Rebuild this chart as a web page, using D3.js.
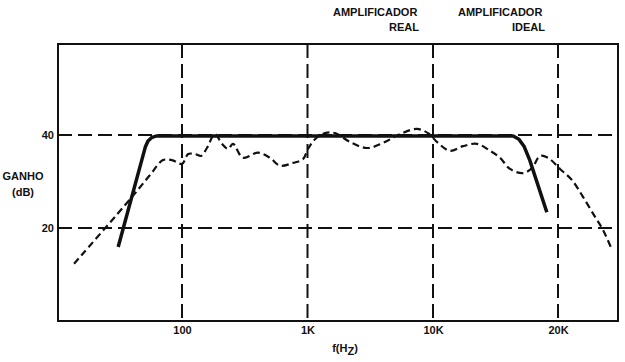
<!DOCTYPE html>
<html>
<head>
<meta charset="utf-8">
<script src="https://cdn.jsdelivr.net/npm/d3@7"></script>
<style>
  body { margin: 0; background: #fff; }
  svg { display: block; }
</style>
</head>
<body>
<div id="chart"></div>
<script>
// frequency axis (the original spaces 10K -> 20K like a decade)
const freqTicks = [100, 1000, 10000, 20000];
const freqLabels = ["100", "1K", "10K", "20K"];
const gainTicks = [20, 40];

// ideal amplifier (solid)
const idealFreq = [31, 51, 53.6, 57.7, 63, 15600, 16100, 16560, 17100, 18800];
const idealGain = [15.9, 37.4, 38.7, 39.5, 39.8, 39.8, 39.1, 37.6, 34.6, 23.4];

// real amplifier (dashed)
const realFreq = [13.8, 40, 55.6, 70.6, 83, 100, 112, 127, 142, 158, 183, 208, 233, 255, 306, 403, 502, 604, 766, 920,
  1009, 1148, 1378, 1656, 2182, 2980, 4000, 5460, 7460, 9120, 10280, 10990, 11810, 12760, 13720, 14500, 15330,
  16470, 17320, 18100, 18920, 20220, 21610, 22970, 24560, 25670, 26980];
const realGain = [12.3, 26.7, 31.4, 34.6, 34.6, 33.8, 35.9, 35.9, 35.5, 37.2, 40.2, 38.1, 37.0, 38.1, 35.1, 36.2, 35.1, 33.4, 34.0, 34.8,
  37.0, 39.1, 40.4, 40.4, 38.5, 37.2, 38.3, 40.2, 41.3, 40.4, 38.3, 36.6, 37.6, 38.1, 36.6, 35.1, 32.7,
  31.8, 32.9, 35.5, 35.1, 32.7, 30.3, 26.7, 22.4, 19.6, 15.3];

const W = 625, H = 362;
const BOX = { LEFT: 58, RIGHT: 618, TOP: 44, BOTTOM: 321 };
const FONT = "'Liberation Sans', Arial, sans-serif";
const INK = "#111";

const svg = d3.select("#chart")
  .append("svg")
  .attr("width", W)
  .attr("height", H)
  .attr("viewBox", [0, 0, W, H])
  .style("background-color", "white");

const x = d3.scaleLog()
  .domain(freqTicks)
  .range([182, 307.5, 433, 558]);

const y = d3.scaleLinear()
  .domain([0, 40])
  .range([BOX.BOTTOM, 135]);

// grid
svg.append("g")
  .selectAll("line")
  .data(gainTicks)
  .join("line")
  .attr("x1", BOX.LEFT)
  .attr("x2", BOX.RIGHT)
  .attr("y1", d => y(d))
  .attr("y2", d => y(d))
  .attr("stroke", INK)
  .attr("stroke-width", 2)
  .attr("stroke-dasharray", "14,6");

svg.append("g")
  .selectAll("line")
  .data(freqTicks)
  .join("line")
  .attr("x1", d => x(d))
  .attr("x2", d => x(d))
  .attr("y1", BOX.TOP)
  .attr("y2", BOX.BOTTOM)
  .attr("stroke", INK)
  .attr("stroke-width", 2)
  .attr("stroke-dasharray", "14,6");

// frame
svg.append("path")
  .attr("d", `M${BOX.LEFT},${BOX.TOP}H${BOX.RIGHT}V${BOX.BOTTOM}H${BOX.LEFT}Z`)
  .attr("fill", "none")
  .attr("stroke", INK)
  .attr("stroke-width", 2);

// axes (labels only)
const xAxis = svg.append("g")
  .attr("transform", `translate(0,${BOX.BOTTOM})`)
  .call(d3.axisBottom(x).tickValues(freqTicks).tickFormat((d, i) => freqLabels[i]).tickSize(0).tickPadding(5));
xAxis.select(".domain").remove();

const yAxis = svg.append("g")
  .attr("transform", `translate(${BOX.LEFT - 4},0)`)
  .call(d3.axisLeft(y).tickValues(gainTicks).tickSize(0).tickPadding(0));
yAxis.select(".domain").remove();

svg.selectAll(".tick text")
  .style("font-family", FONT)
  .style("font-size", "11px")
  .style("font-weight", 700)
  .attr("fill", INK);

// curves
const line = d3.line()
  .x(d => x(d[0]))
  .y(d => y(d[1]));

svg.append("path")
  .datum(realFreq.map((f, i) => [f, realGain[i]]))
  .attr("d", line.curve(d3.curveCatmullRom.alpha(0.5)))
  .attr("fill", "none")
  .attr("stroke", INK)
  .attr("stroke-width", 2.2)
  .attr("stroke-dasharray", "7,4");

svg.append("path")
  .datum(idealFreq.map((f, i) => [f, idealGain[i]]))
  .attr("d", line.curve(d3.curveLinear))
  .attr("fill", "none")
  .attr("stroke", INK)
  .attr("stroke-width", 3.5)
  .attr("stroke-linejoin", "round");

// labels
const label = (tx, ty, anchor, str) => svg.append("text")
  .attr("x", tx)
  .attr("y", ty)
  .attr("text-anchor", anchor)
  .style("font-family", FONT)
  .style("font-size", "11px")
  .style("font-weight", 700)
  .attr("fill", INK)
  .text(str);

label(333, 16, "start", "AMPLIFICADOR");
label(419, 31, "end", "REAL");
label(458, 16, "start", "AMPLIFICADOR");
label(545, 31, "end", "IDEAL");
label(23, 180, "middle", "GANHO");
label(23, 196, "middle", "(dB)");

const fLabel = svg.append("text")
  .attr("x", 345)
  .attr("y", 352)
  .attr("text-anchor", "middle")
  .style("font-family", FONT)
  .style("font-size", "11px")
  .style("font-weight", 700)
  .attr("fill", INK);
fLabel.append("tspan").text("f(H");
fLabel.append("tspan").attr("dy", 3).text("Z");
fLabel.append("tspan").attr("dy", -3).text(")");
</script>
</body>
</html>
